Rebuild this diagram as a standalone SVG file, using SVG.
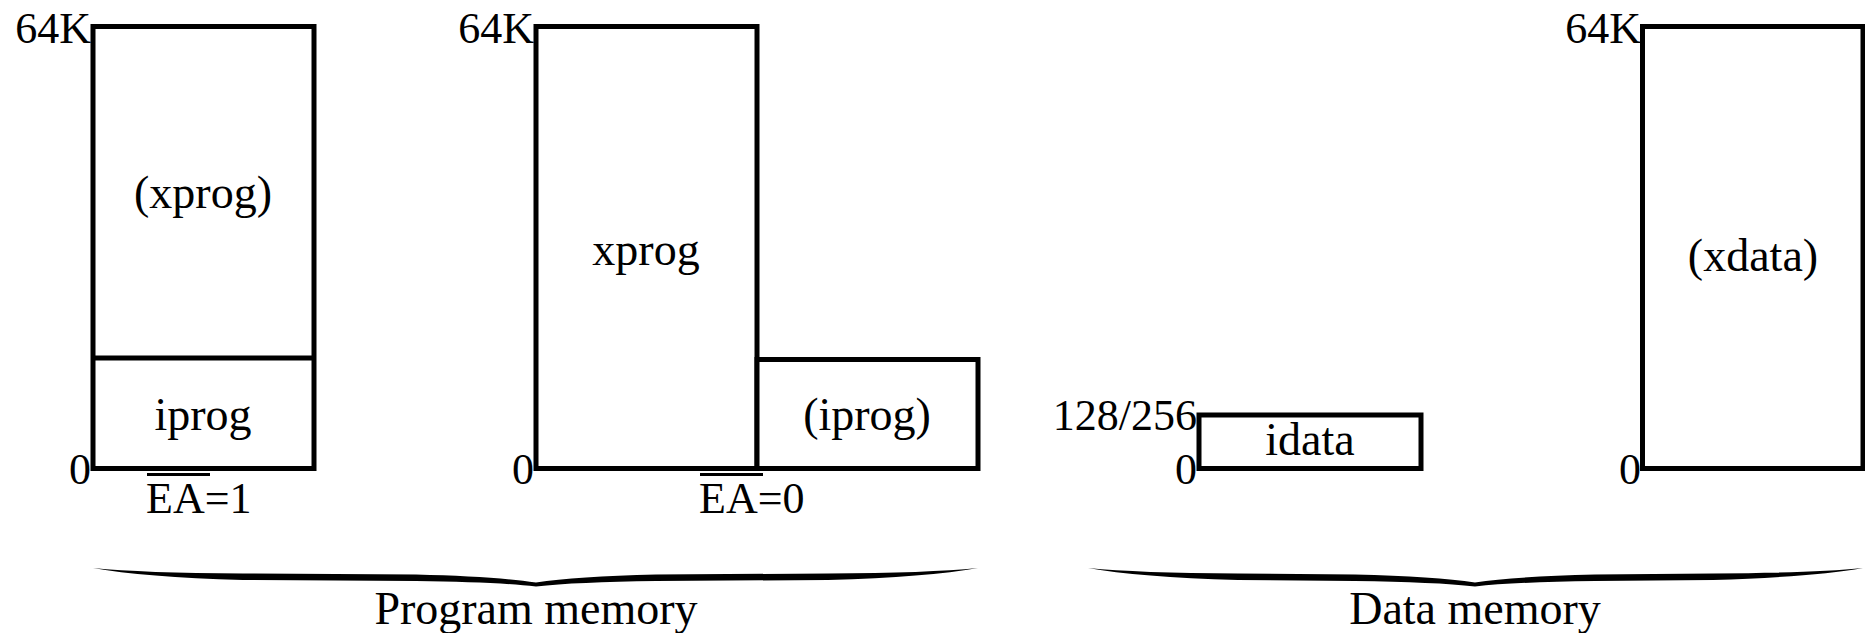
<svg xmlns="http://www.w3.org/2000/svg" width="1865" height="633" viewBox="0 0 1865 633">
<style>
  .box { fill: #fff; stroke: #000; stroke-width: 5; }
  .ln { stroke: #000; stroke-width: 5; fill: none; }
  .bar { stroke: #000; stroke-width: 3; }
  .t { font-family: "Liberation Serif", "Times New Roman", serif; font-size: 46px; fill: #000; }
  .n { font-family: "Liberation Serif", "Times New Roman", serif; font-size: 44px; fill: #000; }
  .mid { text-anchor: middle; }
  .end { text-anchor: end; }
  .brace { fill: #000; stroke: none; }
</style>
<rect width="1865" height="633" fill="#fff"/>

<g id="prog-ea1">
  <rect class="box" x="93" y="26.5" width="221" height="442"/>
  <line class="ln" x1="93" y1="358" x2="314" y2="358"/>
  <text class="n end" x="91" y="43">64K</text>
  <text class="n end" x="91" y="484">0</text>
  <text class="t mid" x="203" y="208">(xprog)</text>
  <text class="t mid" x="203" y="430">iprog</text>
  <text class="n" x="146" y="513">EA=1</text>
  <line class="bar" x1="147" y1="474.5" x2="210" y2="474.5"/>
</g>

<g id="prog-ea0">
  <rect class="box" x="536" y="26.5" width="221" height="442"/>
  <rect class="box" x="757" y="359.5" width="221" height="109"/>
  <text class="n end" x="534" y="43">64K</text>
  <text class="n end" x="534" y="484">0</text>
  <text class="t mid" x="646" y="265">xprog</text>
  <text class="t mid" x="867" y="430">(iprog)</text>
  <text class="n" x="699" y="513">EA=0</text>
  <line class="bar" x1="700" y1="474.5" x2="763" y2="474.5"/>
</g>

<g id="idata">
  <rect class="box" x="1199" y="415" width="222" height="53.5"/>
  <text class="n end" x="1197" y="430">128/256</text>
  <text class="n end" x="1197" y="484">0</text>
  <text class="t mid" x="1310" y="455">idata</text>
</g>

<g id="xdata">
  <rect class="box" x="1642.5" y="26.5" width="220.5" height="442"/>
  <text class="n end" x="1641" y="43">64K</text>
  <text class="n end" x="1641" y="484">0</text>
  <text class="t mid" x="1753" y="271">(xdata)</text>
</g>

<g id="connectors">
  <path class="brace" d="M93,568 Q143,573 243,573.5 L416,574.5 Q496,576.5 536,582.5 Q576,576.5 656,574.5 L828,573.5 Q928,573 978,568 Q928,577 828,580 L656,581 Q576,582 536,586.5 Q496,582 416,581 L243,580 Q143,577 93,568 Z"/>
  <path class="brace" d="M1088,568 Q1138,573 1238,573.5 L1355,574.5 Q1435,576.5 1475,582.5 Q1515,576.5 1595,574.5 L1713,573.5 Q1813,573 1863,568 Q1813,577 1713,580 L1595,581 Q1515,582 1475,586.5 Q1435,582 1355,581 L1238,580 Q1138,577 1088,568 Z"/>
</g>

<g id="labels">
  <text class="t mid" x="536" y="624">Program memory</text>
  <text class="t mid" x="1475" y="624">Data memory</text>
</g>
</svg>
